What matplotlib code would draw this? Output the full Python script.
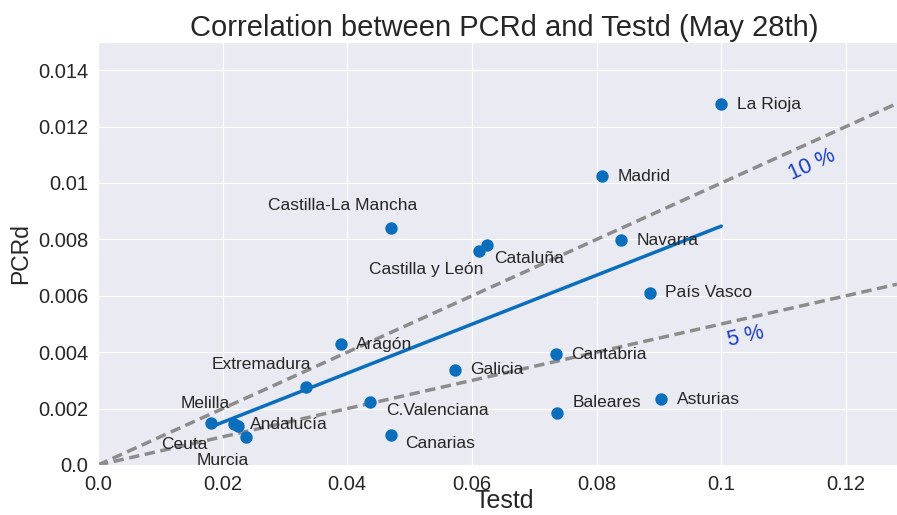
import numpy as np
import matplotlib
matplotlib.use("Agg")
import matplotlib.pyplot as plt
import seaborn as sns

regions = ["La Rioja", "Madrid", "Castilla-La Mancha", "Cataluña", "Castilla y León",
           "Navarra", "País Vasco", "Aragón", "Cantabria", "Galicia", "Extremadura",
           "C.Valenciana", "Asturias", "Baleares", "Canarias", "Melilla", "Ceuta",
           "Andalucía", "Murcia"]
testd = [0.1000, 0.0809, 0.0470, 0.0624, 0.0612, 0.0839, 0.0886, 0.0390, 0.0735,
         0.0573, 0.0334, 0.0437, 0.0904, 0.0737, 0.0470, 0.0181, 0.0218, 0.0224, 0.0238]
pcrd = [0.01280, 0.01024, 0.00840, 0.00780, 0.00758, 0.00797, 0.00610, 0.00429,
        0.00393, 0.00337, 0.00276, 0.00223, 0.00234, 0.00184, 0.00106, 0.00148,
        0.00145, 0.00137, 0.00098]
# label offsets (points) and alignment per region
label_offsets = {
    "Castilla-La Mancha": (-35, 16, "center"),
    "Castilla y León": (-38, -13, "center"),
    "Cataluña": (5, -10, "left"),
    "Extremadura": (-32, 16, "center"),
    "Melilla": (-4, 14, "center"),
    "C.Valenciana": (11, -6, "left"),
    "Baleares": (11, 8, "left"),
    "Canarias": (10, -6, "left"),
    "Ceuta": (-36, -15, "center"),
    "Andalucía": (9, 1, "left"),
    "Murcia": (-17, -17, "center"),
}
# fitted line
fit_x = [0.0181, 0.1000]
fit_y = [0.00135, 0.00847]
ref_rates = [0.10, 0.05]
ref_labels = ["10 %", "5 %"]
ref_label_pos = [(0.1146, 0.01063), (0.1039, 0.00454)]

sns.set_style("darkgrid")
plt.rcParams["font.family"] = ["Liberation Sans", "DejaVu Sans"]

blue = "#0a6ebd"
fig = plt.figure(figsize=(8.97, 5.15), dpi=100)
ax = fig.add_axes([98 / 897, 50 / 515, 799 / 897, 423 / 515])

xmax = 0.1282
xs = np.array([0.0, xmax])
for r in ref_rates:
    ax.plot(xs, r * xs, "--", color="#8c8c8c", lw=2.5, dashes=(3, 1.6), zorder=2)

ax.plot(fit_x, fit_y, color=blue, lw=2.5, zorder=3)
ax.scatter(testd, pcrd, s=80, color=blue, zorder=4, linewidths=0)

for name, x, y in zip(regions, testd, pcrd):
    dx, dy, ha = label_offsets.get(name, (11, 0, "left"))
    ax.annotate(name, (x, y), xytext=(dx, dy), textcoords="offset points",
                ha=ha, va="center", fontsize=12.5, color="#262626")

ax.set_xlim(0, xmax)
ax.set_ylim(0, 0.015)

# angle of reference lines on screen
sx = 799 / xmax
sy = 423 / 0.015
for (lx, ly), lab, r in zip(ref_label_pos, ref_labels, ref_rates):
    ang = np.degrees(np.arctan(r * sy / sx))
    ax.text(lx, ly, lab, color="#1a3fc4", fontsize=15.5, rotation=ang,
            ha="center", va="center", rotation_mode="anchor")

xt = [0.0, 0.02, 0.04, 0.06, 0.08, 0.1, 0.12]
yt = [0.0, 0.002, 0.004, 0.006, 0.008, 0.01, 0.012, 0.014]
ax.set_xticks(xt)
ax.set_xticklabels([str(v) for v in xt])
ax.set_yticks(yt)
ax.set_yticklabels([str(v) for v in yt])
ax.tick_params(labelsize=14.5, colors="#262626")
ax.set_xlabel("Testd", fontsize=18)
ax.xaxis.set_label_coords(0.509, -0.086)
ax.xaxis.label.set_va("center")
ax.set_ylabel("PCRd", fontsize=16.5, labelpad=4)
ax.set_title("Correlation between PCRd and Testd (May 28th)", fontsize=21, pad=4,
             x=0.508)

fig.savefig("out.png", dpi=100)
